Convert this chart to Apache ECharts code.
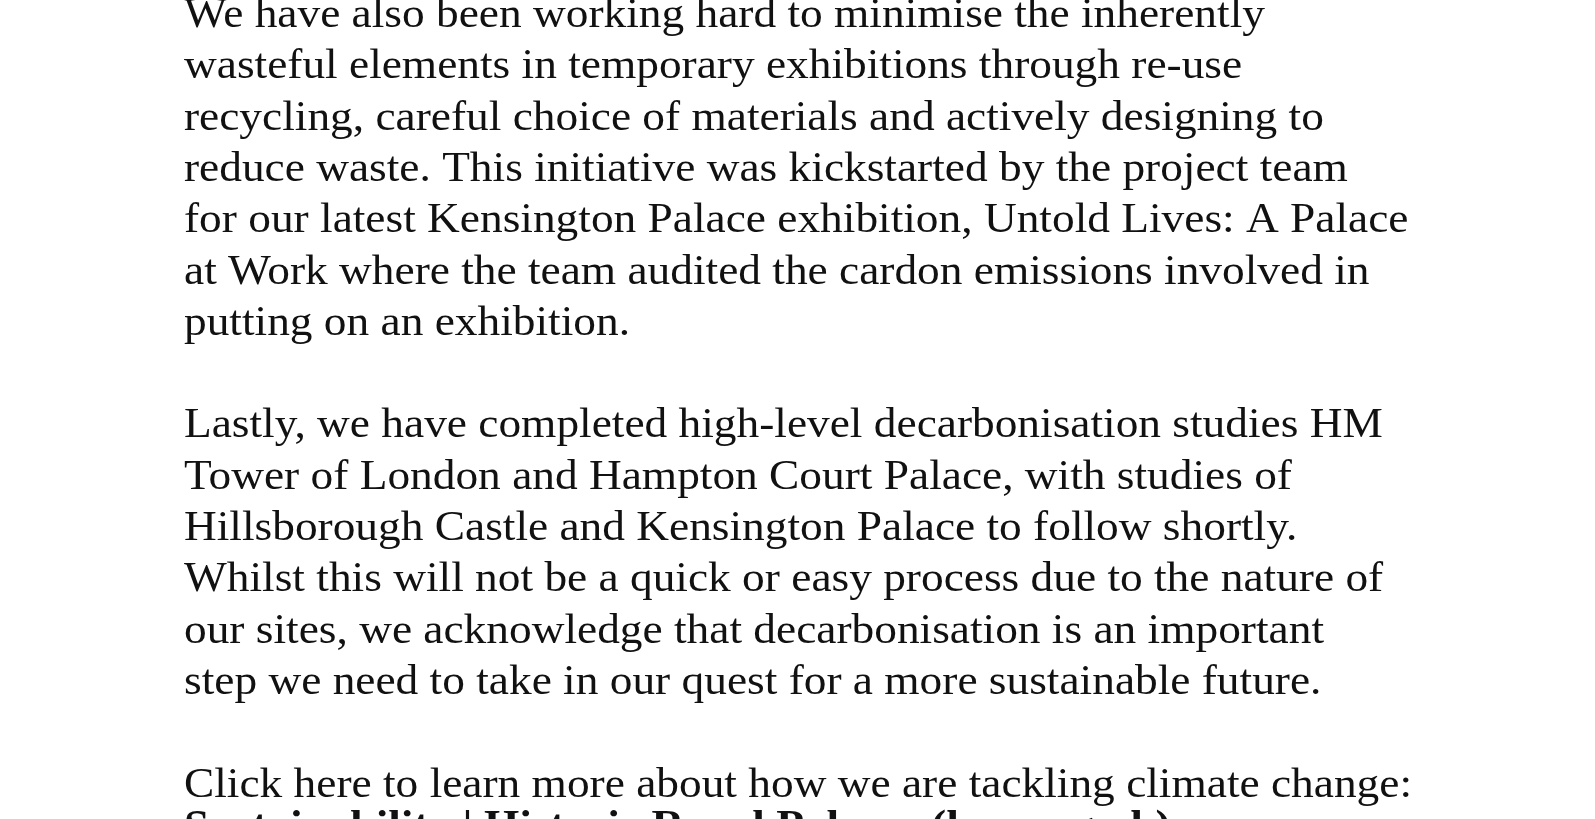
<!DOCTYPE html>
<html>
<head>
<meta charset="utf-8">
<script src="https://cdn.jsdelivr.net/npm/echarts@6/dist/echarts.min.js"></script>
<style>
  html, body { margin: 0; padding: 0; background: #fff; }
  #main { width: 1595px; height: 819px; }
</style>
</head>
<body>
<div id="main"></div>
<script>
// paragraph lines, as wrapped in the picture
var paragraph1 = [
  "We have also been working hard to minimise the inherently",
  "wasteful elements in temporary exhibitions through re-use",
  "recycling, careful choice of materials and actively designing to",
  "reduce waste. This initiative was kickstarted by the project team",
  "for our latest Kensington Palace exhibition, Untold Lives: A Palace",
  "at Work where the team audited the cardon emissions involved in",
  "putting on an exhibition."
];
var paragraph2 = [
  "Lastly, we have completed high-level decarbonisation studies HM",
  "Tower of London and Hampton Court Palace, with studies of",
  "Hillsborough Castle and Kensington Palace to follow shortly.",
  "Whilst this will not be a quick or easy process due to the nature of",
  "our sites, we acknowledge that decarbonisation is an important",
  "step we need to take in our quest for a more sustainable future."
];
var paragraph3 = [
  "Click here to learn more about how we are tackling climate change:"
];
var linkText = "Sustainability | Historic Royal Palaces (hrp.org.uk)";

var myChart = echarts.init(document.getElementById("main"));

var fontFamily = '"Liberation Serif", "DejaVu Serif", serif';
var fontSize = 42;
var stretch = 1.08; // reference face is a bit wider than Liberation Serif
var lineHeight = 51.3;
var firstBaseline = 37;
var left = 184;
var linkRaise = 9; // the bold link sits a little closer to the line above

// build a flat list with blank lines between paragraphs
var rows = [];
paragraph1.forEach(function (t) { rows.push({ text: t, bold: false }); });
rows.push(null);
paragraph2.forEach(function (t) { rows.push({ text: t, bold: false }); });
rows.push(null);
paragraph3.forEach(function (t) { rows.push({ text: t, bold: false }); });
rows.push({ text: linkText, bold: true });

var elements = [];
rows.forEach(function (row, i) {
  if (!row) return;
  elements.push({
    type: "text",
    x: left,
    y: firstBaseline + i * lineHeight - (row.bold ? linkRaise : 0),
    scaleX: stretch,
    style: {
      text: row.text,
      fill: "#111",
      font: (row.bold ? "bold " : "") + fontSize + "px " + fontFamily,
      verticalAlign: "bottom",
      align: "left"
    }
  });
});

myChart.setOption({
  backgroundColor: "#fff",
  graphic: { elements: elements }
});
</script>
</body>
</html>
